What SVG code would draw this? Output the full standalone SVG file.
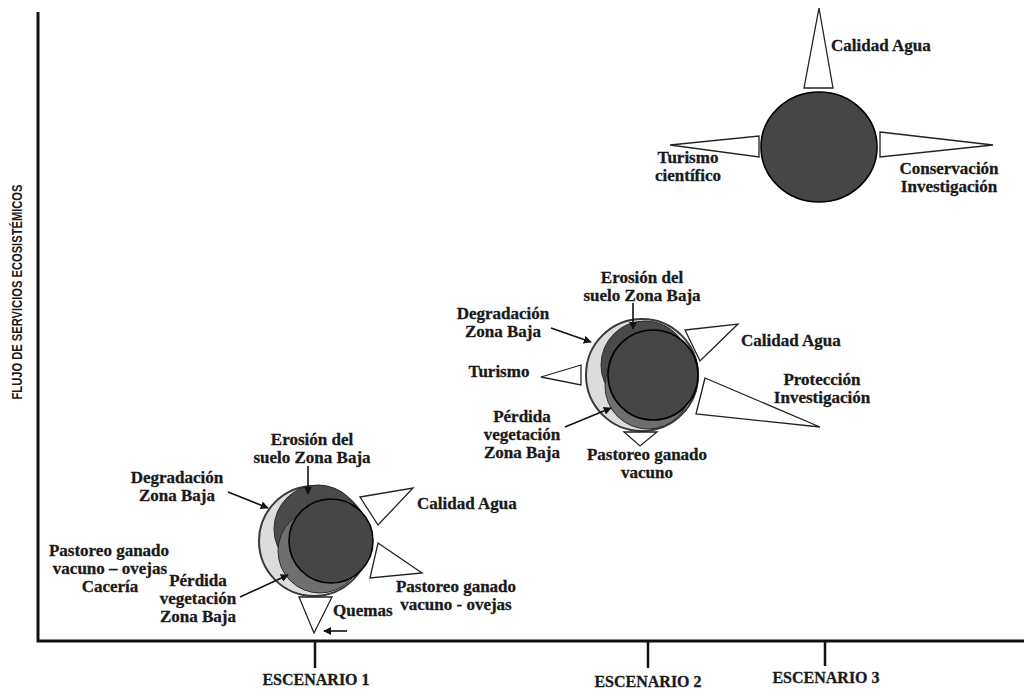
<svg xmlns="http://www.w3.org/2000/svg" width="1024" height="697" viewBox="0 0 1024 697">
<style>
.t{font-family:"Liberation Serif",serif;font-weight:bold;font-size:17px;fill:#1a1a1a;stroke:#1a1a1a;stroke-width:0.3}
.m{text-anchor:middle}
.ax{font-family:"Liberation Serif",serif;font-weight:bold;font-size:16px;fill:#1a1a1a;stroke:#1a1a1a;stroke-width:0.3;text-anchor:middle}
.tri{fill:#fff;stroke:#222;stroke-width:1.3}
.out{fill:#dcdcdc;stroke:#3a3a3a;stroke-width:2}
.dk{fill:#4a4a4a;stroke:#2a2a2a;stroke-width:1}
.md{fill:#6f6f6f;stroke:#2a2a2a;stroke-width:1}
.in{fill:#464646;stroke:#000;stroke-width:1.6}
.arr{stroke:#111;stroke-width:1.6;fill:none;marker-end:url(#ah)}
.axis{stroke:#111;stroke-width:3;fill:none}
</style>
<defs>
<marker id="ah" viewBox="0 0 10 10" refX="9" refY="5" markerWidth="5" markerHeight="5" orient="auto" markerUnits="strokeWidth">
<path d="M0,0 L10,5 L0,10 z" fill="#111"/>
</marker>
</defs>
<rect width="1024" height="697" fill="#fff"/>
<g id="axes">
<path class="axis" d="M38,12 V641 H1024"/>
<path stroke="#111" stroke-width="2.5" d="M315,641 V668 M648,641 V668 M825,641 V666"/>
<text class="ax" x="316" y="685">ESCENARIO 1</text>
<text class="ax" x="648" y="687">ESCENARIO 2</text>
<text class="ax" x="826" y="683">ESCENARIO 3</text>
<text transform="translate(22,292) rotate(-90)" font-family="Liberation Sans,sans-serif" font-weight="bold" font-size="15" fill="#1a1a1a" text-anchor="middle" textLength="215" lengthAdjust="spacingAndGlyphs">FLUJO DE SERVICIOS ECOSISTÉMICOS</text>
</g>
<g id="escenario1">
<circle class="out" cx="314" cy="541" r="55"/>
<circle class="dk" cx="318" cy="529" r="44"/>
<circle class="md" cx="320" cy="551" r="42"/>
<circle class="in" cx="331" cy="541" r="42"/>
<polygon class="tri" points="360,497 413,488 378,525"/>
<polygon class="tri" points="378,543 422,573 370,578"/>
<polygon class="tri" points="299,597 332,597 314,633"/>
<text class="t m" x="312" y="445">Erosión del</text>
<text class="t m" x="312" y="463">suelo Zona Baja</text>
<text class="t m" x="177" y="483">Degradación</text>
<text class="t m" x="177" y="501">Zona Baja</text>
<text class="t" x="417" y="509">Calidad Agua</text>
<text class="t m" x="456" y="592">Pastoreo ganado</text>
<text class="t m" x="456" y="610">vacuno - ovejas</text>
<text class="t m" x="109" y="556">Pastoreo ganado</text>
<text class="t m" x="110" y="574">vacuno – ovejas</text>
<text class="t m" x="110" y="592">Cacería</text>
<text class="t m" x="198" y="586">Pérdida</text>
<text class="t m" x="198" y="604">vegetación</text>
<text class="t m" x="198" y="622">Zona Baja</text>
<text class="t" x="333" y="616">Quemas</text>
</g>
<g id="escenario2">
<circle class="out" cx="642" cy="375" r="56"/>
<circle class="dk" cx="645" cy="365" r="44"/>
<circle class="md" cx="648" cy="386" r="43"/>
<circle class="in" cx="653" cy="375" r="45"/>
<polygon class="tri" points="685,330 738,324 700,361"/>
<polygon class="tri" points="541,377 581,365 581,385"/>
<polygon class="tri" points="705,378 820,427 696,414"/>
<polygon class="tri" points="624,432 657,432 640,446"/>
<text class="t m" x="642" y="283">Erosión del</text>
<text class="t m" x="642" y="301">suelo Zona Baja</text>
<text class="t m" x="503" y="319">Degradación</text>
<text class="t m" x="503" y="337">Zona Baja</text>
<text class="t m" x="499" y="377">Turismo</text>
<text class="t m" x="522" y="422">Pérdida</text>
<text class="t m" x="522" y="440">vegetación</text>
<text class="t m" x="522" y="458">Zona Baja</text>
<text class="t m" x="647" y="460">Pastoreo ganado</text>
<text class="t m" x="647" y="478">vacuno</text>
<text class="t" x="741" y="346">Calidad Agua</text>
<text class="t m" x="822" y="385">Protección</text>
<text class="t m" x="822" y="403">Investigación</text>
</g>
<g id="escenario3">
<ellipse class="in" cx="819" cy="147" rx="58" ry="55" stroke="#222"/>
<polygon class="tri" points="819,8 804,88 833,88"/>
<polygon class="tri" points="670,145 759,136 759,157"/>
<polygon class="tri" points="880,132 993,145 880,157"/>
<text class="t" x="831" y="51">Calidad Agua</text>
<text class="t m" x="688" y="163">Turismo</text>
<text class="t m" x="688" y="181">científico</text>
<text class="t m" x="949" y="174">Conservación</text>
<text class="t m" x="949" y="192">Investigación</text>
</g>
<g id="connectors">
<path class="arr" d="M308,466 V494"/>
<path class="arr" d="M228,492 L268,508"/>
<path class="arr" d="M240,597 L288,575"/>
<path class="arr" d="M347,631 H324"/>
<path class="arr" d="M633,303 V329"/>
<path class="arr" d="M551,328 L591,342"/>
<path class="arr" d="M565,427 L611,408"/>
</g>
</svg>
